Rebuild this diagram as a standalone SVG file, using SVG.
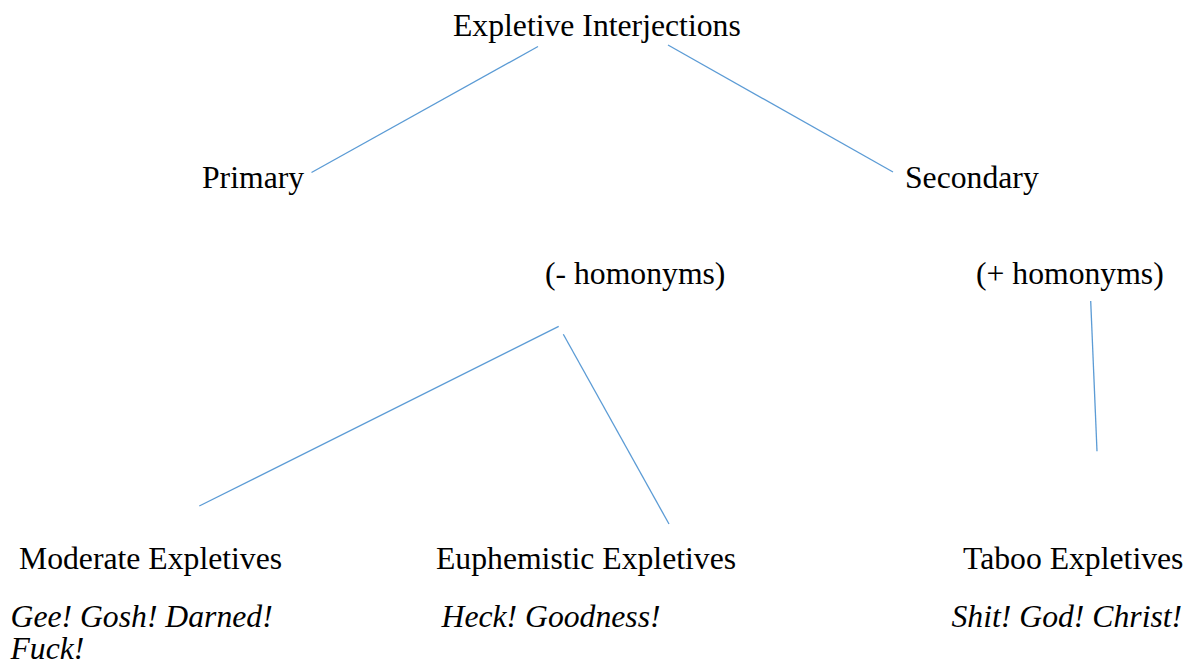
<svg xmlns="http://www.w3.org/2000/svg" width="1201" height="666" viewBox="0 0 1201 666">
<style>
text{font-family:"Liberation Serif","Times New Roman",serif;font-size:31.7px;fill:#000}
.it{font-style:italic}
.c{stroke:#5B9BD5;stroke-width:1.3;fill:none}
</style>
<rect width="1201" height="666" fill="#fff"/>
<g id="connectors">
<line class="c" x1="538" y1="46.5" x2="311.5" y2="172.5"/>
<line class="c" x1="668" y1="45" x2="893" y2="172"/>
<line class="c" x1="558.7" y1="326.3" x2="199.3" y2="506"/>
<line class="c" x1="563.3" y1="334.3" x2="669" y2="524"/>
<line class="c" x1="1090.7" y1="301" x2="1097" y2="451.3"/>
</g>
<g id="root"><text x="453" y="36">Expletive Interjections</text></g>
<g id="primary"><text x="202" y="188">Primary</text></g>
<g id="secondary"><text x="905" y="188">Secondary</text></g>
<g id="minus-homonyms"><text x="545" y="284">(- homonyms)</text></g>
<g id="plus-homonyms"><text x="976" y="284">(+ homonyms)</text></g>
<g id="moderate">
<text x="19" y="568.5">Moderate Expletives</text>
<text class="it" x="10.5" y="627">Gee! Gosh! Darned!</text>
<text class="it" x="10.5" y="659">Fuck!</text>
</g>
<g id="euphemistic">
<text x="436" y="568.5">Euphemistic Expletives</text>
<text class="it" x="441.5" y="627">Heck! Goodness!</text>
</g>
<g id="taboo">
<text x="963" y="568.5">Taboo Expletives</text>
<text class="it" x="951.5" y="627">Shit! God! Christ!</text>
</g>
</svg>
